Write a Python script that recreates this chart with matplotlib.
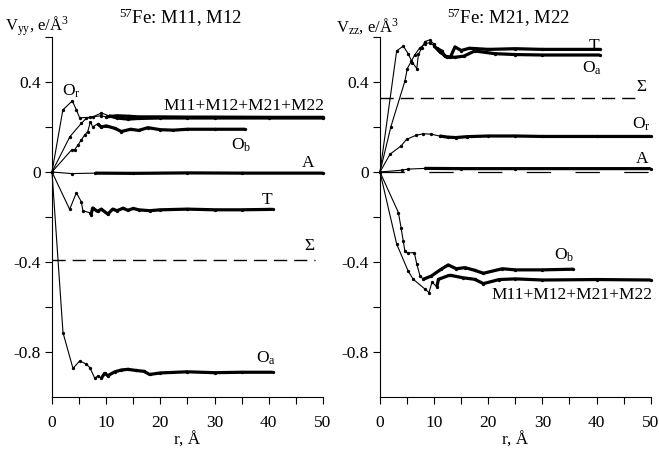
import matplotlib
matplotlib.use('Agg')
import matplotlib.pyplot as plt
import numpy as np
from matplotlib.ticker import MultipleLocator, FixedLocator, FuncFormatter

plt.rcParams['font.family'] = ['Liberation Serif', 'DejaVu Serif']
plt.rcParams['mathtext.fontset'] = 'custom'
plt.rcParams['mathtext.rm'] = 'Liberation Serif'
plt.rcParams['mathtext.it'] = 'Liberation Serif:italic'
plt.rcParams['axes.unicode_minus'] = False

# ---------------- Left panel data (V_yy, M11, M12) ----------------
L_sum_x = [0, 3.3, 5.4, 6.3, 7.5, 9.1, 10.5, 12, 14, 16, 20, 25, 30, 40, 50]
L_sum_y = [0, 0.157, 0.216, 0.238, 0.245, 0.262, 0.25, 0.24, 0.235, 0.238, 0.24, 0.24, 0.24, 0.24, 0.24]

L_Or_x = [0, 2.0, 3.75, 4.5, 5.1, 7, 9, 10, 12, 14, 16, 20, 25, 30, 40, 50]
L_Or_y = [0, 0.276, 0.316, 0.276, 0.241, 0.243, 0.25, 0.245, 0.25, 0.248, 0.245, 0.245, 0.244, 0.244, 0.243, 0.243]

L_Ob_x = [0, 3.6, 4.2, 4.8, 5.4, 6.0, 6.6, 7.1, 7.5, 8.4, 9.1, 10, 11.6, 12.8, 14.5, 16, 17.7, 20, 22.4, 25, 30, 35.6]
L_Ob_y = [0, 0.098, 0.1, 0.12, 0.142, 0.164, 0.18, 0.224, 0.2, 0.214, 0.2, 0.205, 0.194, 0.18, 0.19, 0.185, 0.197, 0.188, 0.186, 0.19, 0.19, 0.19]

L_A_x = [0, 3.6, 8, 15, 25, 35, 50]
L_A_y = [0, -0.007, -0.005, -0.006, -0.004, -0.005, -0.005]

L_T_x = [0, 3.26, 4.5, 5.4, 5.7, 6.95, 7.2, 7.5, 8.4, 9.1, 10.3, 11.2, 12, 13.1, 14, 15, 16, 18, 20, 25, 30, 35, 40.7]
L_T_y = [0, -0.166, -0.092, -0.132, -0.172, -0.181, -0.19, -0.16, -0.175, -0.165, -0.187, -0.165, -0.172,
         -0.161, -0.17, -0.162, -0.168, -0.172, -0.168, -0.165, -0.168, -0.168, -0.166]

L_Oa_x = [0, 2.03, 3.87, 5.1, 6.3, 7.0, 7.9, 8.5, 9.1, 9.7, 10.3, 11.6, 12.8, 14, 15.5, 17, 18, 20, 25, 30, 35, 40.7]
L_Oa_y = [0, -0.714, -0.873, -0.84, -0.853, -0.87, -0.917, -0.905, -0.917, -0.895, -0.905, -0.888, -0.88,
          -0.877, -0.882, -0.886, -0.9, -0.893, -0.888, -0.892, -0.89, -0.89]

L_sigma = -0.39

# ---------------- Right panel data (V_zz, M21, M22) ----------------
R_T_x = [0, 3.08, 4.3, 5.2, 6.0, 6.8, 7.1, 7.7, 8.3, 9.2, 9.9, 10.5, 11.4, 12.0, 13.0, 13.85, 15, 16.5, 18, 20, 25, 30, 40.6]
R_T_y = [0, 0.538, 0.56, 0.526, 0.486, 0.46, 0.523, 0.55, 0.58, 0.587, 0.57, 0.55, 0.538, 0.515, 0.51, 0.556,
         0.54, 0.55, 0.548, 0.545, 0.548, 0.545, 0.545]

R_Oa_x = [0, 2.0, 4.6, 5.05, 5.8, 6.4, 7.3, 8.3, 9.2, 10.0, 11.0, 12.3, 13.9, 15.5, 17.5, 21.2, 25, 30, 40.6]
R_Oa_y = [0, 0.2, 0.404, 0.46, 0.493, 0.52, 0.55, 0.57, 0.575, 0.56, 0.535, 0.511, 0.51, 0.515, 0.538, 0.526,
          0.522, 0.52, 0.52]

R_Or_x = [0, 1.85, 3.9, 4.9, 6.65, 8, 9.5, 11, 12.5, 14, 16, 20, 25, 30, 40, 50]
R_Or_y = [0, 0.079, 0.116, 0.145, 0.163, 0.17, 0.168, 0.16, 0.155, 0.153, 0.157, 0.16, 0.16, 0.158, 0.158, 0.158]

R_A_x = [0, 4, 5.2, 8.3, 15, 25, 50]
R_A_y = [0, 0.008, 0.013, 0.016, 0.015, 0.015, 0.015]

R_Ob_x = [0, 3.4, 3.9, 4.3, 4.6, 5.1, 6.35, 6.8, 7.4, 8.0, 9.5, 11.3, 12.6, 14.1, 15.7, 17.5, 19.1, 22.6, 25, 30, 35.7]
R_Ob_y = [0, -0.18, -0.248, -0.307, -0.351, -0.36, -0.358, -0.41, -0.462, -0.477, -0.462, -0.432, -0.413,
          -0.43, -0.425, -0.437, -0.45, -0.43, -0.435, -0.435, -0.432]

R_sum_x = [0, 3.08, 5.2, 6.15, 8.3, 9.05, 9.6, 10.5, 10.8, 12.7, 13.2, 15.3, 17.5, 19.1, 22, 25, 30, 40, 50]
R_sum_y = [0, -0.32, -0.44, -0.477, -0.52, -0.536, -0.49, -0.51, -0.477, -0.46, -0.46, -0.47, -0.477, -0.496,
           -0.478, -0.475, -0.48, -0.478, -0.48]

R_sigma = 0.33

fig = plt.figure(figsize=(6.59, 4.58), dpi=100)
axL = fig.add_axes([0.0789, 0.1332, 0.4112, 0.786])
axR = fig.add_axes([0.5766, 0.1332, 0.4108, 0.786])


def draw(ax, x, y, thick_from):
    x = np.asarray(x, float)
    y = np.asarray(y, float)
    ax.plot(x, y, color='k', lw=0.8, marker='o', ms=2.4, mew=0, clip_on=False)
    m = x >= thick_from
    ax.plot(x[m], y[m], color='k', lw=2.3, solid_joinstyle='round', solid_capstyle='butt', clip_on=False)


def fmt(v, pos):
    if abs(v) < 1e-9:
        return '0'
    return f'{v:.1f}'


for ax in (axL, axR):
    ax.set_xlim(0, 50)
    ax.set_ylim(-1.0, 0.6)
    ax.spines['top'].set_visible(False)
    ax.spines['right'].set_visible(False)
    ax.spines['left'].set_linewidth(0.8)
    ax.spines['bottom'].set_linewidth(0.8)
    ax.xaxis.set_major_locator(MultipleLocator(10))
    ax.xaxis.set_minor_locator(MultipleLocator(5))
    ax.yaxis.set_major_locator(FixedLocator([-0.8, -0.4, 0, 0.4]))
    ax.yaxis.set_minor_locator(FixedLocator([-0.6, -0.2, 0.2, 0.6]))
    ax.yaxis.set_major_formatter(FuncFormatter(fmt))
    ax.tick_params(which='both', direction='out', length=5, width=0.8, labelsize=12.5)
    ax.tick_params(axis='x', which='both', pad=8)
    ax.tick_params(axis='y', which='both', pad=3)
    ax.set_xlabel('r, Å', fontsize=12.5, labelpad=1)

# Left panel
draw(axL, L_sum_x, L_sum_y, 10)
draw(axL, L_Or_x, L_Or_y, 10)
draw(axL, L_Ob_x, L_Ob_y, 8)
draw(axL, L_A_x, L_A_y, 8)
draw(axL, L_T_x, L_T_y, 7)
draw(axL, L_Oa_x, L_Oa_y, 9)
axL.plot([0, 48.5], [L_sigma, L_sigma], color='k', lw=1.0, dashes=(9.5, 5))

fs = 12.5
axL.text(3.5, 0.36, r'O$_\mathrm{r}$', fontsize=fs, ha='center', va='center')
axL.text(50.2, 0.293, 'M11+M12+M21+M22', fontsize=fs, ha='right', va='center')
axL.text(34.9, 0.12, r'O$_\mathrm{b}$', fontsize=fs, ha='center', va='center')
axL.text(47.2, 0.04, 'A', fontsize=fs, ha='center', va='center')
axL.text(39.7, -0.124, 'T', fontsize=fs, ha='center', va='center')
axL.text(47.5, -0.33, 'Σ', fontsize=fs, ha='center', va='center')
axL.text(39.5, -0.83, r'O$_\mathrm{a}$', fontsize=fs, ha='center', va='center')

# Right panel
draw(axR, R_T_x, R_T_y, 10)
draw(axR, R_Oa_x, R_Oa_y, 10)
draw(axR, R_Or_x, R_Or_y, 10)
draw(axR, R_A_x, R_A_y, 8)
draw(axR, R_Ob_x, R_Ob_y, 8)
draw(axR, R_sum_x, R_sum_y, 10)
axR.plot([0, 48.3], [R_sigma, R_sigma], color='k', lw=1.0, dashes=(9.5, 5))
axR.plot([0, 50], [0, 0], color='k', lw=0.9, dashes=(19.5, 19.5))

axR.text(39.5, 0.56, 'T', fontsize=fs, ha='center', va='center')
axR.text(39.2, 0.46, r'O$_\mathrm{a}$', fontsize=fs, ha='center', va='center')
axR.text(48.2, 0.38, 'Σ', fontsize=fs, ha='center', va='center')
axR.text(48.3, 0.213, r'O$_\mathrm{r}$', fontsize=fs, ha='center', va='center')
axR.text(48.5, 0.06, 'A', fontsize=fs, ha='center', va='center')
axR.text(34.0, -0.369, r'O$_\mathrm{b}$', fontsize=fs, ha='center', va='center')
axR.text(50.3, -0.548, 'M11+M12+M21+M22', fontsize=fs, ha='right', va='center')

# Titles and y-axis labels
fig.text(0.273, 0.962, r'$^{57}$Fe: M11, M12', fontsize=13.5, ha='center', va='center')
fig.text(0.771, 0.962, r'$^{57}$Fe: M21, M22', fontsize=13.5, ha='center', va='center')
fig.text(0.056, 0.943, r'V$_\mathrm{yy}$, e/Å$^3$', fontsize=12, ha='center', va='center')
fig.text(0.557, 0.943, r'V$_\mathrm{zz}$, e/Å$^3$', fontsize=12, ha='center', va='center')

fig.savefig('out.png', dpi=100)
